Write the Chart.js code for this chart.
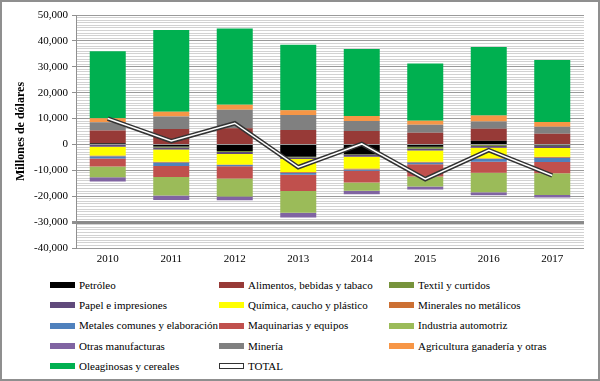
<!DOCTYPE html>
<html>
<head>
<meta charset="utf-8">
<script src="https://cdn.jsdelivr.net/npm/chart.js@4.4.0/dist/chart.umd.min.js"></script>
<style>
    body { margin: 0; background: #fff; }
    .frame { position: relative; width: 600px; height: 381px; overflow: hidden; font-family: "Liberation Serif", serif; color: #000; }
    .frame canvas { position: absolute; left: 0; top: 0; }
    .frame__border { position: absolute; left: 0; top: 0; right: 0; bottom: 0; border: 2px solid #8f8f8f; pointer-events: none; }
    .legend__item { position: absolute; height: 20px; line-height: 20px; font-size: 11px; white-space: nowrap; }
    .legend__box { display: inline-block; width: 25px; height: 6px; vertical-align: middle; margin-right: 4px; box-sizing: border-box; position: relative; top: -1px; }
</style>
</head>
<body>
<div class="frame">
    <canvas id="myChart" width="600" height="268"></canvas>
    <div class="legend"></div>
    <div class="frame__border"></div>
</div>
<script>
// años
const years = ['2010', '2011', '2012', '2013', '2014', '2015', '2016', '2017'];

// saldo por sector, millones de dólares
const petroleo = [500, -800, -2500, -4800, -3800, -900, 1400, -400];
const alimentos = [4900, 6000, 6300, 5600, 5200, 4500, 4650, 4100];
const textil = [-200, -400, -400, -200, -200, -800, -600, -200];
const papel = [-700, -800, -800, -650, -800, -650, -650, -800];
const quimica = [-3400, -4700, -4000, -5000, -4500, -4300, -4100, -3400];
const minerales = [-300, -300, -200, -300, -400, -300, -200, -300];
const metales = [-800, -1300, -500, -800, -500, -700, -1100, -1700];
const maquinarias = [-3100, -4300, -4800, -6200, -4500, -4700, -4300, -4300];
const automotriz = [-4200, -7100, -6900, -8400, -3200, -3900, -7500, -8400];
const otras = [-1600, -1800, -1500, -1900, -1300, -1150, -1150, -1000];
const mineria = [3200, 4800, 7100, 5800, 3900, 3100, 2800, 2700];
const agricultura = [1500, 1800, 1900, 1800, 1900, 1550, 2300, 1900];
const oleaginosas = [25900, 31600, 29500, 25300, 25900, 22100, 26500, 23900];
const total = [10000, 1300, 8200, -8800, 200, -13400, -2200, -12000];

const sectors = [
    ['Petróleo', petroleo, '#000000'],
    ['Alimentos, bebidas y tabaco', alimentos, '#973a37'],
    ['Textil y curtidos', textil, '#77933c'],
    ['Papel e impresiones', papel, '#604a7b'],
    ['Química, caucho y plástico', quimica, '#ffff00'],
    ['Minerales no metálicos', minerales, '#cc7033'],
    ['Metales comunes y elaboración', metales, '#4f81bd'],
    ['Maquinarias y equipos', maquinarias, '#c0504d'],
    ['Industria automotriz', automotriz, '#9bbb59'],
    ['Otras manufacturas', otras, '#8064a2'],
    ['Minería', mineria, '#808080'],
    ['Agricultura ganadería y otras', agricultura, '#f79646'],
    ['Oleaginosas y cereales', oleaginosas, '#00b050']
];

Chart.defaults.font.family = '"Liberation Serif", serif';
Chart.defaults.color = '#000';

let ctx = document.getElementById('myChart');
let datasets = [];

for (let s of sectors) {
    datasets.push({
        label: s[0],
        data: s[1],
        backgroundColor: s[2],
        borderWidth: 0,
        barPercentage: 0.567,
        categoryPercentage: 1,
        order: 2
    });
}

// TOTAL como línea doble: trazo oscuro y blanco encima
datasets.push({
    type: 'line',
    label: 'TOTAL',
    data: total,
    borderColor: '#333333',
    borderWidth: 4.5,
    pointRadius: 0,
    tension: 0,
    stack: 'tot',
    order: 1
});
datasets.push({
    type: 'line',
    label: 'TOTAL_inner',
    data: total,
    borderColor: '#ffffff',
    borderWidth: 1.5,
    pointRadius: 0,
    tension: 0,
    stack: 'tot2',
    order: 0
});

function gridColor(c) {
    if (c.tick.value === -30000) return '#8a8a8a';
    if (c.tick.value % 10000 === 0) return '#9a9a9a';
    return '#d2d2d2';
}

new Chart(ctx, {
    type: 'bar',
    data: {
        labels: years,
        datasets: datasets
    },
    options: {
        responsive: false,
        animation: false,
        layout: { padding: { left: 4, right: 16, top: 15, bottom: 2 } },
        plugins: {
            legend: { display: false },
            tooltip: { enabled: false }
        },
        scales: {
            x: {
                stacked: true,
                grid: { display: false, drawTicks: false },
                border: { display: false },
                ticks: { font: { size: 11 }, padding: 5 },
                afterFit: (s) => { s.height = 18; }
            },
            y: {
                stacked: true,
                min: -40000,
                max: 50000,
                border: { color: '#8f8f8f' },
                grid: {
                    color: gridColor,
                    lineWidth: (c) => c.tick.value === -30000 ? 3 : 1,
                    tickColor: (c) => c.tick.value % 10000 === 0 ? '#8f8f8f' : 'rgba(0,0,0,0)',
                    tickLength: 4
                },
                ticks: {
                    stepSize: 1000,
                    autoSkip: false,
                    padding: 4,
                    font: { size: 11 },
                    callback: (v) => v % 10000 === 0 ? v.toLocaleString('en-US') : ''
                },
                title: {
                    display: true,
                    text: 'Millones de dólares',
                    font: { size: 12, weight: 'bold' },
                    padding: { top: 10, bottom: 0 }
                },
                afterFit: (s) => { s.width = 72; }
            }
        }
    }
});

// leyenda en tres columnas
const legend = document.querySelector('.legend');
const colX = [50, 219, 389];
const rowY = [284.5, 305, 325.3, 345.5, 365.5];
let items = sectors.map(s => [s[0], s[2]]);
items.push(['TOTAL', null]);

items.forEach((item, i) => {
    let div = document.createElement('div');
    div.className = 'legend__item';
    div.style.left = colX[i % 3] + 'px';
    div.style.top = (rowY[Math.floor(i / 3)] - 10) + 'px';
    let box = document.createElement('span');
    box.className = 'legend__box';
    if (item[1]) {
        box.style.background = item[1];
    } else {
        box.style.background = '#fff';
        box.style.border = '1.5px solid #333';
    }
    div.appendChild(box);
    div.appendChild(document.createTextNode(item[0]));
    legend.appendChild(div);
});
</script>
</body>
</html>
